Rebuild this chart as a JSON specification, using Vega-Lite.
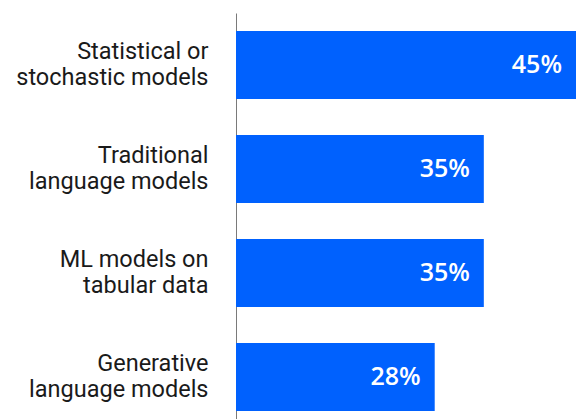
{
  "$schema": "https://vega.github.io/schema/vega-lite/v6.json",
  "autosize": {"type": "none"},
  "padding": {"left": 236, "top": 13, "right": 2, "bottom": 0},
  "width": 340,
  "height": 416,
  "background": "white",
  "config": {"view": {"stroke": null}},
  "data": {
    "values": [
      {"category": "Statistical or|stochastic models", "value": 45, "label": "45%"},
      {"category": "Traditional|language models", "value": 32.8, "label": "35%"},
      {"category": "ML models on|tabular data", "value": 32.8, "label": "35%"},
      {"category": "Generative|language models", "value": 26.3, "label": "28%"}
    ]
  },
  "encoding": {
    "y": {
      "field": "category",
      "type": "nominal",
      "sort": null,
      "scale": {"paddingInner": 0.346, "paddingOuter": 0.173},
      "axis": {
        "title": null,
        "ticks": false,
        "domainColor": "#7a7a7a",
        "domainWidth": 1,
        "labelExpr": "split(datum.label, '|')",
        "labelFont": "Roboto",
        "labelFontSize": 23.5,
        "labelColor": "#1a1a1a",
        "labelLineHeight": 26,
        "labelOffset": -13,
        "labelPadding": 28,
        "labelLimit": 300
      }
    }
  },
  "layer": [
    {
      "mark": {"type": "bar", "color": "#0061FE"},
      "encoding": {
        "x": {"field": "value", "type": "quantitative", "scale": {"domain": [0, 45], "nice": false}, "axis": null}
      }
    },
    {
      "mark": {"type": "text", "align": "right", "baseline": "middle", "dx": -14, "color": "white", "font": "Open Sans", "fontWeight": 600, "fontSize": 25},
      "encoding": {
        "x": {"field": "value", "type": "quantitative"},
        "text": {"field": "label"}
      }
    }
  ]
}
